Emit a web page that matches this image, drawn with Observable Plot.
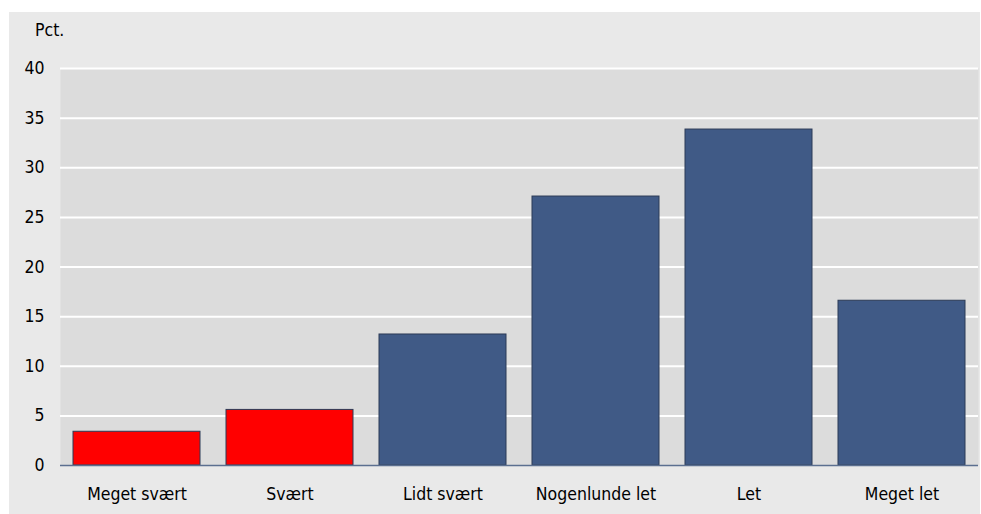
<!DOCTYPE html>
<html>
<head>
<meta charset="utf-8">
<script src="https://cdn.jsdelivr.net/npm/d3@7"></script>
<script src="https://cdn.jsdelivr.net/npm/@observablehq/plot@0.6"></script>
<style>
  html, body { margin: 0; padding: 0; background: #ffffff; }
  body { width: 981px; height: 514px; position: relative; overflow: hidden;
         font-family: "Liberation Sans Narrow", "DejaVu Sans Condensed", "Roboto", sans-serif; }
  #panel { position: absolute; left: 9px; top: 12px; width: 971px; height: 502px; background: #e9e9e9; }
  #unit { position: absolute; left: 26px; top: 8px; font-size: 17.5px; color: #000; }
  #chart { position: absolute; left: 0; top: 0; }
</style>
</head>
<body>
<div id="panel">
  <div id="chart"></div>
  <div id="unit">Pct.</div>
</div>
<script>
const categories = ["Meget svært", "Svært", "Lidt svært", "Nogenlunde let", "Let", "Meget let"];
const values = [3.4, 5.6, 13.2, 27.1, 33.85, 16.6];
const barColors = ["#ff0000", "#ff0000", "#405a86", "#405a86", "#405a86", "#405a86"];
const yTicks = [0, 5, 10, 15, 20, 25, 30, 35, 40];

const data = categories.map((c, i) => ({ category: c, value: values[i], color: barColors[i] }));

const chart = Plot.plot({
  width: 971,
  height: 502,
  marginLeft: 51,
  marginRight: 2,
  marginTop: 56,
  marginBottom: 49,
  style: { background: "transparent", fontFamily: "'Liberation Sans Narrow', 'DejaVu Sans Condensed', sans-serif", fontSize: "17.5px", color: "#000" },
  x: { domain: categories, paddingInner: 0.17, paddingOuter: 0.085, label: null },
  y: { domain: [0, 40], label: null },
  marks: [
    Plot.frame({ fill: "#dcdcdc", stroke: null }),
    Plot.gridY(yTicks.filter(d => d > 0), { stroke: "#ffffff", strokeOpacity: 1, strokeWidth: 2 }),
    Plot.barY(data, { x: "category", y: "value", fill: "color", stroke: "#2b3a56", strokeWidth: 1 }),
    Plot.ruleY([0], { stroke: "#5b6f90", strokeWidth: 1.5 }),
    Plot.axisY(yTicks, { tickSize: 0, tickPadding: 16, label: null, fontSize: 17.5 }),
    Plot.axisX({ tickSize: 0, tickPadding: 22, label: null, fontSize: 17.5 })
  ]
});
document.getElementById("chart").appendChild(chart);
</script>
</body>
</html>
